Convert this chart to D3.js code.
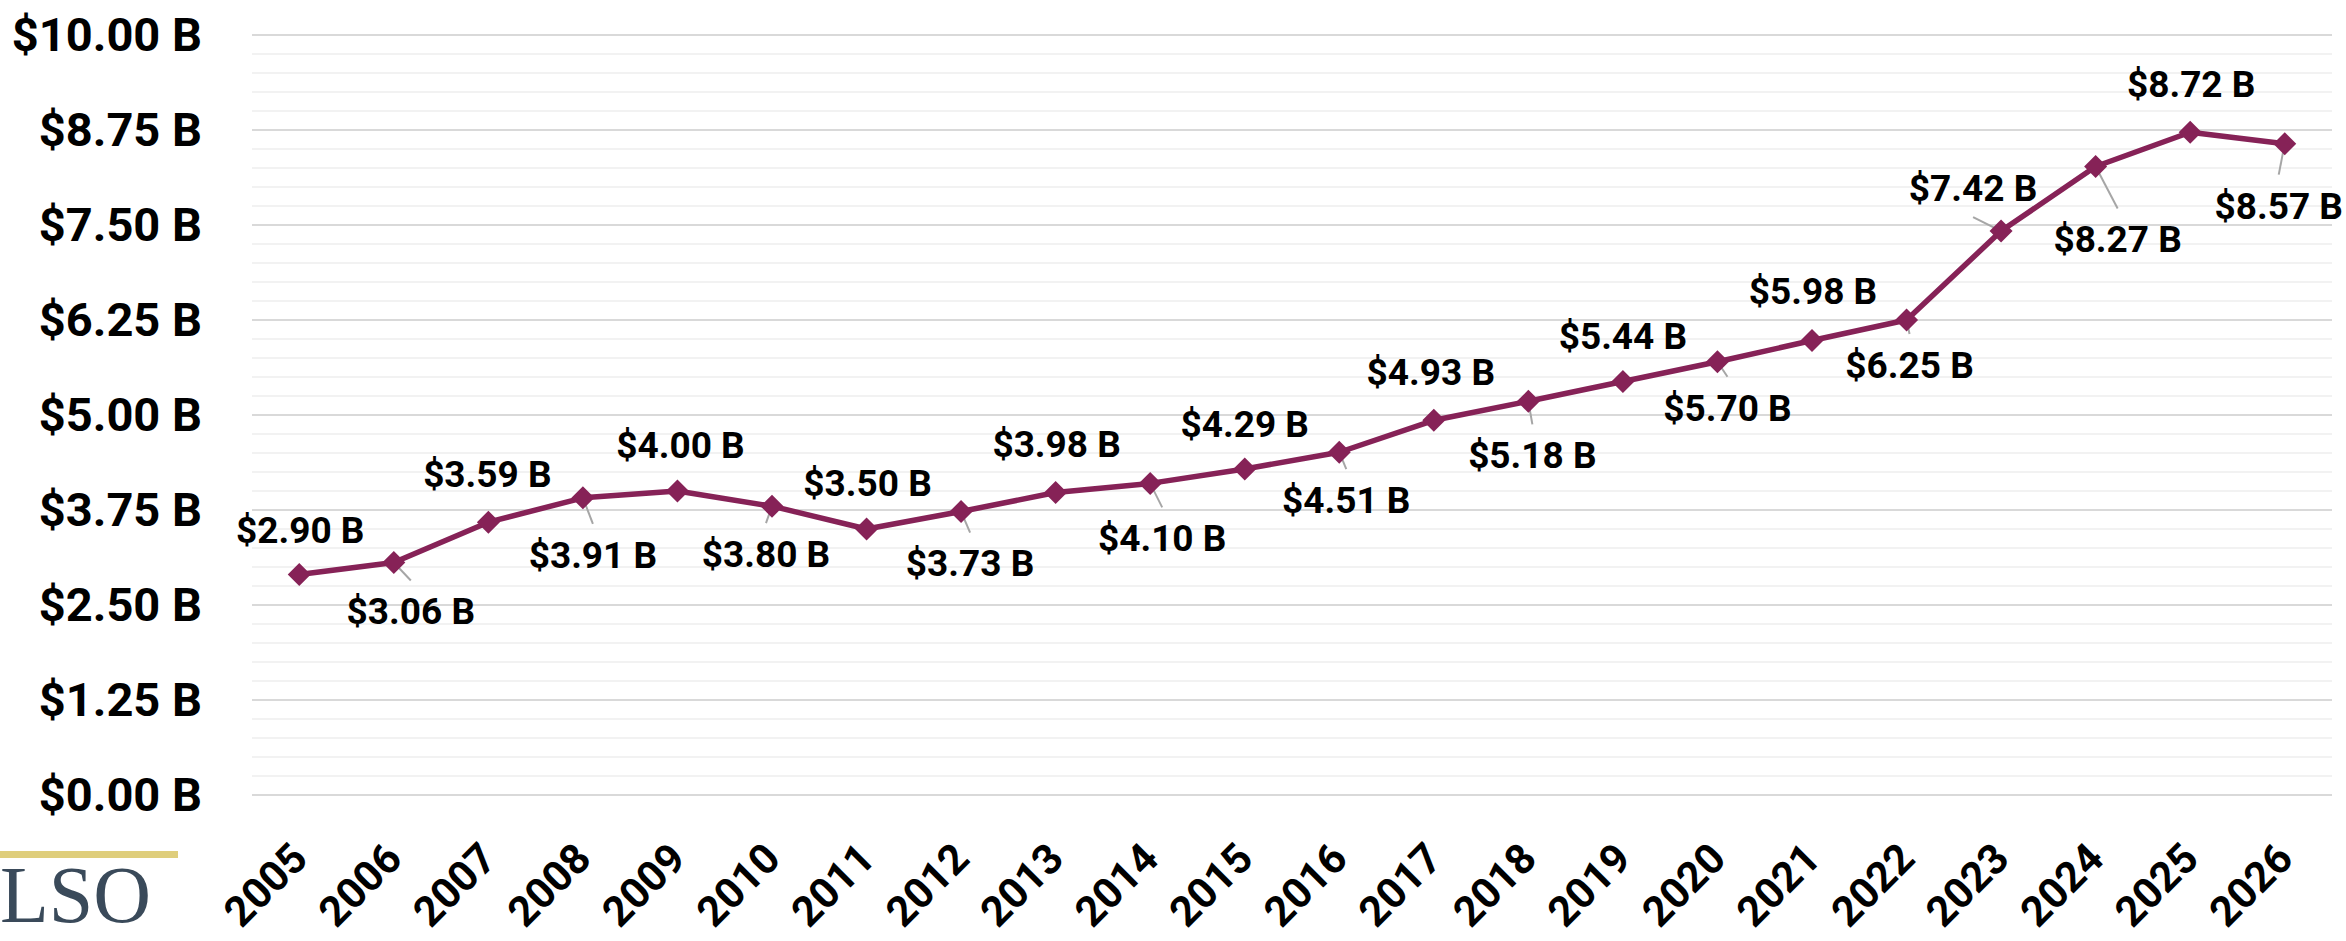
<!DOCTYPE html>
<html>
<head>
<meta charset="utf-8">
<script src="https://cdn.jsdelivr.net/npm/d3@7"></script>
<style>
  html, body { margin: 0; padding: 0; background: #FFFFFF; }
  svg { display: block; }
</style>
</head>
<body>
<div id="chart"></div>
<script>
// ---- Data ----
const years = [2005, 2006, 2007, 2008, 2009, 2010, 2011, 2012, 2013, 2014, 2015,
  2016, 2017, 2018, 2019, 2020, 2021, 2022, 2023, 2024, 2025, 2026]
const values = [2.90, 3.06, 3.59, 3.91, 4.00, 3.80, 3.50, 3.73, 3.98, 4.10, 4.29,
  4.51, 4.93, 5.18, 5.44, 5.70, 5.98, 6.25, 7.42, 8.27, 8.72, 8.57]
const yTicks = [0, 1.25, 2.5, 3.75, 5, 6.25, 7.5, 8.75, 10]
const logoText = 'LSO'

// ---- Layout (label placement like the spreadsheet: offset from point, leader or not) ----
const labelOffsets = [
  [1, -45, 0], [17, 49, 1], [-1, -48, 0], [10, 57, 1], [3, -46, 0], [-6, 48, 1],
  [1, -46, 0], [9, 52, 1], [1, -48, 0], [12, 55, 1], [0, -45, 0], [7, 48, 1],
  [-3, -48, 0], [4, 54, 1], [0, -46, 0], [10, 46, 1], [1, -49, 0], [3, 45, 1],
  [-28, -43, 1], [22, 73, 1], [1, -48, 0], [-6, 62, 1]
]

const W = 2346
const H = 941
const plot = { left: 252, right: 2332, top: 35, bottom: 795 }
const FONT = 'Roboto, "Noto Sans", sans-serif'
const LINE_COLOR = '#862257'

const data = years.map((y, i) => ({ year: y, value: values[i], off: labelOffsets[i] }))

const svg = d3.select('#chart')
  .append('svg')
  .attr('width', W)
  .attr('height', H)
  .attr('viewBox', `0 0 ${W} ${H}`)

// Scales
const x = d3.scalePoint()
  .domain(years)
  .range([plot.left, plot.right])
  .padding(0.5)

const y = d3.scaleLinear()
  .domain([0, 10])
  .range([plot.bottom, plot.top])

// Minor gridlines every 0.25
svg.append('g')
  .attr('class', 'minor-grid')
  .selectAll('line')
  .data(d3.range(0, 41).map(i => i * 0.25).filter(v => !yTicks.includes(v)))
  .join('line')
  .attr('x1', plot.left)
  .attr('x2', plot.right)
  .attr('y1', d => y(d))
  .attr('y2', d => y(d))
  .attr('stroke', '#EEEEEE')
  .attr('stroke-width', 1.5)

// Major gridlines
svg.append('g')
  .attr('class', 'major-grid')
  .selectAll('line')
  .data(yTicks)
  .join('line')
  .attr('x1', plot.left)
  .attr('x2', plot.right)
  .attr('y1', d => y(d))
  .attr('y2', d => y(d))
  .attr('stroke', '#D9D9D9')
  .attr('stroke-width', 2)

// Y axis
svg.append('g')
  .attr('class', 'y-axis')
  .attr('transform', 'translate(202,0)')
  .call(d3.axisLeft(y).tickValues(yTicks).tickSize(0).tickPadding(0)
    .tickFormat(d => `$${d.toFixed(2)} B`))
  .call(g => {
    g.select('.domain').remove()
    g.selectAll('.tick text')
      .attr('fill', '#000000')
      .attr('font-size', '47px')
      .attr('font-weight', 700)
      .attr('font-family', FONT)
      .attr('dy', '0.32em')
  })

// X axis labels (rotated)
svg.append('g')
  .attr('class', 'x-axis')
  .attr('transform', `translate(0,${plot.bottom})`)
  .call(d3.axisBottom(x).tickSize(0).tickPadding(0))
  .call(g => {
    g.select('.domain').remove()
    g.selectAll('.tick text')
      .attr('fill', '#000000')
      .attr('font-size', '42px')
      .attr('font-weight', 700)
      .attr('font-family', FONT)
      .attr('text-anchor', 'end')
      .attr('dy', null)
      .attr('y', null)
      .attr('transform', 'translate(10,66) rotate(-45)')
  })

// Line
const line = d3.line()
  .x(d => x(d.year))
  .y(d => y(d.value))

svg.append('path')
  .datum(data)
  .attr('fill', 'none')
  .attr('stroke', LINE_COLOR)
  .attr('stroke-width', 5.5)
  .attr('stroke-linejoin', 'round')
  .attr('d', line)

// Leader lines
svg.append('g')
  .attr('class', 'leaders')
  .selectAll('line')
  .data(data.filter(d => d.off[2]))
  .join('line')
  .attr('x1', d => x(d.year))
  .attr('y1', d => y(d.value))
  .attr('x2', d => x(d.year) + d.off[0])
  .attr('y2', d => y(d.value) + d.off[1] + (d.off[1] > 0 ? -31 : 29))
  .attr('stroke', '#A6A6A6')
  .attr('stroke-width', 2)

// Markers (diamonds)
const r = 11.5
svg.append('g')
  .attr('class', 'markers')
  .selectAll('path')
  .data(data)
  .join('path')
  .attr('transform', d => `translate(${x(d.year)},${y(d.value)})`)
  .attr('d', `M0,${-r}L${r},0L0,${r}L${-r},0Z`)
  .attr('fill', LINE_COLOR)

// Data labels
svg.append('g')
  .attr('class', 'data-labels')
  .selectAll('text')
  .data(data)
  .join('text')
  .attr('x', d => x(d.year) + d.off[0])
  .attr('y', d => y(d.value) + d.off[1])
  .attr('dy', '0.35em')
  .attr('text-anchor', 'middle')
  .attr('fill', '#000000')
  .attr('font-size', '37px')
  .attr('font-weight', 700)
  .attr('font-family', FONT)
  .text(d => `$${d.value.toFixed(2)} B`)

// Logo, bottom left
svg.append('rect')
  .attr('x', 0)
  .attr('y', 851)
  .attr('width', 178)
  .attr('height', 7)
  .attr('fill', '#DFCE7C')

svg.append('text')
  .attr('x', 0)
  .attr('y', 922)
  .attr('fill', '#3A4A5A')
  .attr('font-size', '80px')
  .attr('font-family', '"Liberation Serif", "DejaVu Serif", serif')
  .text(logoText)
</script>
</body>
</html>
